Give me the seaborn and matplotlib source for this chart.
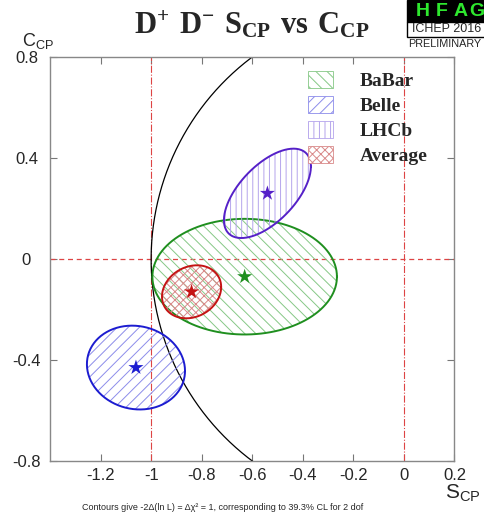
import numpy as np
import matplotlib
matplotlib.use("Agg")
import matplotlib.pyplot as plt
from matplotlib.patches import Patch, Rectangle
import seaborn as sns

# ─── Data ────────────────────────────────────────────────────────────────────

EXPERIMENTS = ["BaBar", "Belle", "LHCb", "Average"]
S_CP   = [-0.63, -1.06, -0.54, -0.84]     # central values
C_CP   = [-0.07, -0.43, 0.26, -0.13]
S_ERR  = [0.365, 0.194, 0.172, 0.117]     # 1-sigma half widths of contours
C_ERR  = [0.229, 0.166, 0.177, 0.105]
CORR   = [0.0, -0.08, 0.60, 0.18]         # S-C correlation

EDGE_COLORS  = ["#1f8f1f", "#1c1cd0", "#5520c8", "#c41414"]
HATCH_COLORS = ["#86c886", "#8c8cea", "#b4a4ec", "#d98a8a"]
HATCHES      = ["\\\\\\", "///", "|||", "xxxx"]

X_TICKS = [-1.2, -1.0, -0.8, -0.6, -0.4, -0.2, 0.0, 0.2]
X_TICK_LABELS = ["-1.2", "-1", "-0.8", "-0.6", "-0.4", "-0.2", "0", "0.2"]
Y_TICKS = [-0.8, -0.4, 0.0, 0.4, 0.8]
Y_TICK_LABELS = ["-0.8", "-0.4", "0", "0.4", "0.8"]

RED = "#dd4444"


def contour(cx, cy, sx, sy, rho, n=240):
    t = np.linspace(0, 2 * np.pi, n)
    x = cx + sx * np.cos(t)
    y = cy + sy * (rho * np.cos(t) + np.sqrt(1 - rho ** 2) * np.sin(t))
    return x, y


sns.set_style("ticks")
plt.rcParams["font.family"] = ["Liberation Sans", "DejaVu Sans"]
plt.rcParams["mathtext.fontset"] = "custom"
plt.rcParams["mathtext.bf"] = "Liberation Serif:bold"
plt.rcParams["mathtext.rm"] = "Liberation Serif"
plt.rcParams["mathtext.sf"] = "Liberation Sans"
plt.rcParams["hatch.linewidth"] = 0.7

fig = plt.figure(figsize=(4.85, 5.22), dpi=100)
ax = fig.add_axes([0.1031, 0.1169, 0.834, 0.7739])

# reference lines
ax.plot([-1.0, -1.0], [-0.8, 0.8], color=RED, lw=0.8, ls="-.", zorder=1)
ax.plot([0.0, 0.0], [-0.8, 0.8], color=RED, lw=0.8, ls="-.", zorder=1)
ax.plot([-1.4, 0.2], [0.0, 0.0], color=RED, lw=0.9, ls=(0, (4, 3)), zorder=1)

# physical boundary S^2 + C^2 = 1
phi = np.linspace(0, 2 * np.pi, 400)
sns.lineplot(x=np.cos(phi), y=np.sin(phi), sort=False, estimator=None,
             color="black", lw=0.9, ax=ax, zorder=2)

# contours
for i, name in enumerate(EXPERIMENTS):
    x, y = contour(S_CP[i], C_CP[i], S_ERR[i], C_ERR[i], CORR[i])
    ax.fill(x, y, facecolor="none", edgecolor=HATCH_COLORS[i],
            hatch=HATCHES[i], lw=0, zorder=3 + i)
    sns.lineplot(x=x, y=y, sort=False, estimator=None,
                 color=EDGE_COLORS[i], lw=1.4, ax=ax, zorder=3 + i)

sns.scatterplot(x=S_CP, y=C_CP, hue=EXPERIMENTS, palette=EDGE_COLORS,
                marker="*", s=130, edgecolor="none", legend=False,
                ax=ax, zorder=10)

ax.set_xlim(-1.4, 0.2)
ax.set_ylim(-0.8, 0.8)
ax.set_xticks(X_TICKS, X_TICK_LABELS)
ax.set_yticks(Y_TICKS, Y_TICK_LABELS)
ax.set_xlabel("")
ax.set_ylabel("")
ax.tick_params(direction="in", length=5, width=0.8, color="#777777",
               top=True, right=True, labelsize=12)
ax.tick_params(axis="x", pad=5)
ax.tick_params(axis="y", pad=17)
for lab in ax.get_yticklabels():
    lab.set_horizontalalignment("center")
for sp in ax.spines.values():
    sp.set_color("#888888")
    sp.set_linewidth(1.0)

# legend
handles = [Patch(facecolor="white", edgecolor=HATCH_COLORS[i],
                 hatch=HATCHES[i], lw=0.6) for i in range(len(EXPERIMENTS))]
ax.legend(handles, EXPERIMENTS, loc="upper left",
          bbox_to_anchor=(0.638, 0.965), frameon=False,
          prop={"family": "Liberation Serif", "weight": "bold", "size": 14},
          handlelength=1.3, handleheight=0.92, handletextpad=1.35,
          labelspacing=0.32, borderpad=0, borderaxespad=0)

# titles and axis labels
fig.text(0.52, 0.953, r"$\mathbf{D^{+}\ D^{-}\ S_{CP}\ vs\ C_{CP}}$",
         ha="center", va="center", fontsize=22)
fig.text(0.955, 0.055, r"$\mathsf{S_{CP}}$", ha="center", va="center", fontsize=15)
fig.text(0.078, 0.922, r"$\mathsf{C_{CP}}$", ha="center", va="center", fontsize=13)
fig.text(0.46, 0.027,
         "Contours give -2Δ(ln L) = Δχ² = 1, corresponding to 39.3% CL for 2 dof",
         ha="center", va="center", fontsize=6.5)

# HFAG logo
fig.patches.append(Rectangle((407 / 485, 1 - 22 / 522), 0.2, 22 / 522,
                             transform=fig.transFigure, facecolor="black",
                             edgecolor="black", lw=1))
fig.patches.append(Rectangle((407 / 485, 1 - 37 / 522), 0.2, 15 / 522,
                             transform=fig.transFigure, facecolor="white",
                             edgecolor="black", lw=1))
for letter, px in zip("HFAG", [423, 442, 461, 477]):
    fig.text(px / 485, 1 - 11 / 522, letter, ha="center", va="center",
             color="#2ee82e", fontsize=14, fontweight="bold")
fig.text(447 / 485, 1 - 29.5 / 522, "ICHEP 2016", ha="center", va="center",
         fontsize=9)
fig.text(408 / 485, 1 - 44 / 522, "PRELIMINARY", ha="left", va="center",
         fontsize=7.8)

fig.savefig("out.png", dpi=100)
